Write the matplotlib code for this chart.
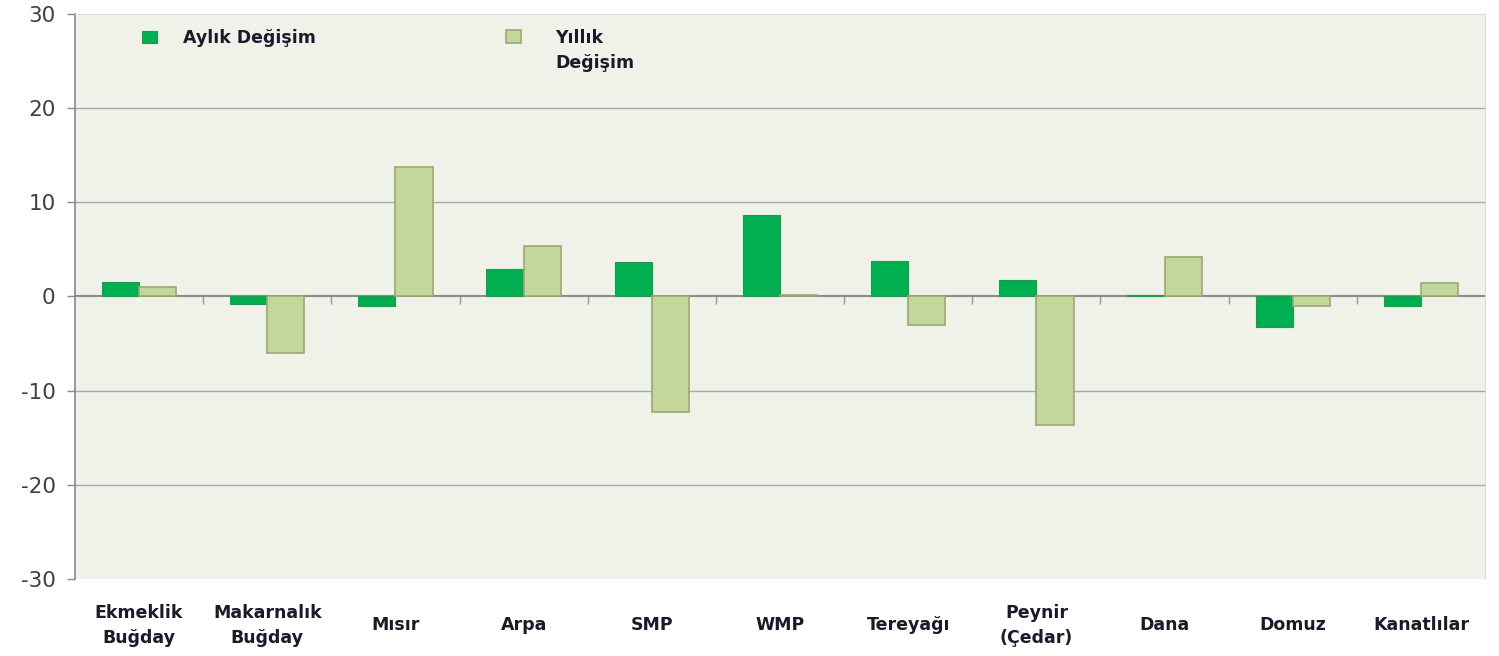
import numpy as np
import matplotlib.pyplot as plt
from matplotlib.patches import Rectangle
from matplotlib.legend_handler import HandlerPatch

plt.rcParams['font.family'] = ['DejaVu Sans']
plt.rcParams['axes.unicode_minus'] = False

# Data
categories = ['Ekmeklik\nBuğday', 'Makarnalık\nBuğday', 'Mısır', 'Arpa', 'SMP', 'WMP',
              'Tereyağı', 'Peynir\n(Çedar)', 'Dana', 'Domuz', 'Kanatlılar']
aylik = [1.5, -0.8, -1.0, 2.9, 3.7, 8.7, 3.8, 1.7, 0.2, -3.2, -1.0]
yillik = [1.0, -6.0, 13.8, 5.4, -12.3, 0.2, -3.0, -13.7, 4.2, -1.0, 1.4]
yticks = [-30, -20, -10, 0, 10, 20, 30]

bg = '#F0F2EA'
green = '#00B050'
light = '#C4D79B'

fig = plt.figure(figsize=(14.99, 6.56), dpi=100)
ax = fig.add_axes([0.050, 0.1174, 0.9407, 0.8613])
ax.set_facecolor(bg)

x = np.arange(len(categories))
w = 0.29
b1 = ax.bar(x - w / 2, aylik, w, color=green, edgecolor='#1E9A4A', linewidth=0.8,
            zorder=3)
b2 = ax.bar(x + w / 2, yillik, w, color=light, edgecolor='#9AA873', linewidth=1.2,
            zorder=3)

ax.set_xlim(-0.5, len(categories) - 0.5)
ax.set_ylim(-30, 30)
ax.set_yticks(yticks)
ax.tick_params(axis='y', labelsize=15.5, labelcolor='#404040', color='#888888',
               length=6, width=1, pad=8)
for t in [-20, -10, 10, 20]:
    ax.axhline(t, color='#A8A8A8', linewidth=1, zorder=1)

# zero line with category boundary ticks
ax.spines['bottom'].set_position(('data', 0))
ax.spines['bottom'].set_color('#8C8C8C')
ax.spines['bottom'].set_linewidth(1.5)
ax.spines['bottom'].set_zorder(2)
ax.set_xticks(np.arange(0.5, len(categories) - 0.5, 1.0))
ax.set_xticklabels([])
ax.tick_params(axis='x', direction='out', length=6, width=1, color='#9A9A9A')

ax.spines['left'].set_color('#888888')
ax.spines['left'].set_linewidth(1.2)
ax.spines['top'].set_color('#DCDCDC')
ax.spines['right'].set_color('#DCDCDC')

for i, lab in enumerate(categories):
    ax.text(i, -0.082, lab, transform=ax.get_xaxis_transform(), ha='center',
            va='center', fontsize=12.5, fontweight='bold', color='#1A1A2A',
            linespacing=1.5)


# legend: handle sits level with the first text line
def top_patch(legend, orig_handle, xdescent, ydescent, width, height, fontsize):
    return Rectangle((-xdescent, -ydescent + 10.5), width, height)


leg_kw = dict(loc='upper left', frameon=False, fontsize=12.5, handlelength=0.86,
              handleheight=0.7, borderpad=0, borderaxespad=0)
leg1 = ax.legend([b1.patches[0]], ['Aylık Değişim'], handletextpad=1.5,
                 bbox_to_anchor=(0.0475, 0.974), **leg_kw)
ax.add_artist(leg1)
leg2 = ax.legend([b2.patches[0]], ['Yıllık\nDeğişim'], handletextpad=2.0,
                 bbox_to_anchor=(0.3057, 0.974),
                 handler_map={Rectangle: HandlerPatch(patch_func=top_patch)}, **leg_kw)
for leg in (leg1, leg2):
    for t in leg.get_texts():
        t.set_fontweight('bold')
        t.set_color('#1A1A2A')
        t.set_linespacing(1.5)

fig.savefig('out.png', dpi=100, facecolor='white')
